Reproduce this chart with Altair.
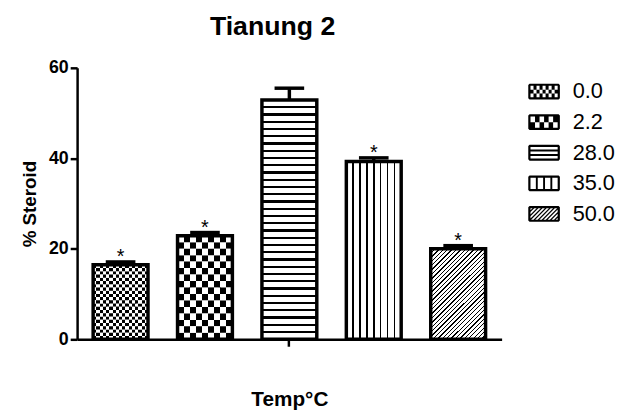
import altair as alt
import pandas as pd

# ---- data ----
temps = ["0.0", "2.2", "28.0", "35.0", "50.0"]
means = [16.5, 22.9, 52.9, 39.3, 20.0]
sems = [0.6, 0.7, 2.6, 0.8, 0.7]
sig = ["*", "*", "", "*", "*"]
y_ticks = [0, 20, 40, 60]

df = pd.DataFrame({"temp": temps, "mean": means, "sem": sems, "sig": sig})
df["upper"] = df["mean"] + df["sem"]
df["mid"] = df["mean"] / 2

FONT = "Liberation Sans"

# checkerboard fill: (columns, rows) of cells for the two chequered bars
checker = {"0.0": (17, 23), "2.2": (9, 16)}
slice_rows = []
for t, m in zip(temps, means):
    if t in checker:
        cols, rows = checker[t]
        for j in range(rows):
            slice_rows.append({"temp": t, "y0": m * j / rows, "y1": m * (j + 1) / rows, "par": j % 2})
slices = pd.DataFrame(slice_rows)


# ---- pattern helpers (linear gradients with hard stops) ----
def grad(stops, x2=0, y2=1):
    return {"gradient": "linear", "x1": 0, "y1": 0, "x2": x2, "y2": y2, "stops": stops}


def bands(n, first="black"):
    other = "white" if first == "black" else "black"
    stops = []
    for i in range(n):
        c = first if i % 2 == 0 else other
        stops.append({"offset": i / n, "color": c})
        stops.append({"offset": (i + 1) / n, "color": c})
    return stops


def lines(n, hw):
    stops = [{"offset": 0, "color": "white"}]
    for k in range(1, n):
        p = k / n
        stops += [
            {"offset": p - hw, "color": "white"},
            {"offset": p - hw, "color": "black"},
            {"offset": p + hw, "color": "black"},
            {"offset": p + hw, "color": "white"},
        ]
    stops.append({"offset": 1, "color": "white"})
    return stops


# ---- legend symbol paths ----
H, T = 0.5, 0.14


def f(v):
    return f"{v:.3f}"


def ccw(x0, y0, x1, y1):
    return f"M{f(x0)},{f(y0)}L{f(x0)},{f(y1)}L{f(x1)},{f(y1)}L{f(x1)},{f(y0)}Z"


def poly(pts):
    return "M" + "L".join(f"{f(x)},{f(y)}" for x, y in pts) + "Z"


c = 0.08
OUT = (f"M{f(-1 + c)},{f(-H)}L{f(1 - c)},{f(-H)}L1,{f(-H + c)}L1,{f(H - c)}"
       f"L{f(1 - c)},{f(H)}L{f(-1 + c)},{f(H)}L-1,{f(H - c)}L-1,{f(-H + c)}Z")
IX0, IX1, IY0, IY1 = -1 + T, 1 - T, -H + T, H - T


def checker_path(cols, rows):
    w = (IX1 - IX0) / cols
    h = (IY1 - IY0) / rows
    p = OUT
    for i in range(cols):
        for j in range(rows):
            if (i + j) % 2 == 0:
                p += ccw(IX0 + i * w, IY0 + j * h, IX0 + (i + 1) * w, IY0 + (j + 1) * h)
    return p


def hstrip_path(n, lw):
    h = (IY1 - IY0 - (n - 1) * lw) / n
    p = OUT
    for j in range(n):
        y0 = IY0 + j * (h + lw)
        p += ccw(IX0, y0, IX1, y0 + h)
    return p


def vstrip_path(n, lw):
    w = (IX1 - IX0 - (n - 1) * lw) / n
    p = OUT
    for i in range(n):
        x0 = IX0 + i * (w + lw)
        p += ccw(x0, IY0, x0 + w, IY1)
    return p


def clip_x(pts, lo, hi):
    def clip(points, inside, inter):
        out = []
        for i in range(len(points)):
            a, b = points[i - 1], points[i]
            if inside(b):
                if not inside(a):
                    out.append(inter(a, b))
                out.append(b)
            elif inside(a):
                out.append(inter(a, b))
        return out

    def ix(xv):
        def g(a, b):
            t = (xv - a[0]) / (b[0] - a[0])
            return (xv, a[1] + t * (b[1] - a[1]))
        return g

    pts = clip(pts, lambda p: p[0] >= lo, ix(lo))
    if pts:
        pts = clip(pts, lambda p: p[0] <= hi, ix(hi))
    return pts


def diag_path(spacing, lw):
    hb = IY1 - IY0
    p = OUT + ccw(IX0, IY0, IX1, IY1)  # white interior
    cx = IX0 - hb + spacing / 2
    while cx < IX1:
        pts = [(cx, IY1), (cx + hb, IY0), (cx + hb + lw, IY0), (cx + lw, IY1)]
        pts = clip_x(pts, IX0, IX1)
        if len(pts) >= 3:
            p += poly(pts)
        cx += spacing
    return p


legend_paths = [
    checker_path(9, 3),
    checker_path(6, 2),
    hstrip_path(3, 0.12),
    vstrip_path(4, 0.12),
    diag_path(0.26, 0.11),
]

# ---- shared encodings ----
XS = alt.Scale(domain=temps, paddingInner=0.35, paddingOuter=0.19)
X = alt.X(
    "temp:N",
    sort=temps,
    scale=XS,
    axis=alt.Axis(
        values=["28.0"], labels=False, tickSize=7, tickWidth=2.5, domainWidth=2.5,
        tickColor="black", domainColor="black", title="Temp°C", titleFont=FONT,
        titleFontSize=21, titleFontWeight="bold", titleColor="black", titlePadding=42,
    ),
)
YS = alt.Scale(domain=[0, 60], nice=False)
Y = alt.Y(
    "mean:Q",
    scale=YS,
    axis=alt.Axis(
        values=y_ticks, grid=False, tickSize=7, tickWidth=2.5, domainWidth=2.5,
        tickColor="black", domainColor="black", labelColor="black",
        labelFont=FONT, labelFontSize=18, labelFontWeight="bold", labelPadding=2,
        title="% Steroid", titleFont=FONT, titleFontSize=19, titleFontWeight="bold",
        titleColor="black", titlePadding=9,
    ),
)

base = alt.Chart(df)

legend_pts = base.mark_point(
    filled=True, size=1024, opacity=1, color="black", strokeWidth=0
).encode(
    x=X,
    y=alt.Y("mid:Q", scale=YS),
    shape=alt.Shape(
        "temp:N",
        sort=temps,
        scale=alt.Scale(domain=temps, range=legend_paths),
        legend=alt.Legend(
            title=None, orient="none", legendX=457, legendY=8, symbolSize=1024,
            symbolFillColor="black", symbolStrokeWidth=0, symbolOpacity=1,
            labelFont=FONT, labelFontSize=22, labelColor="black", labelOffset=13,
            rowPadding=4, padding=0,
        ),
    ),
)


def bar_layer(t, fill):
    return (
        base.transform_filter(alt.datum.temp == t)
        .mark_bar(fill=fill, strokeWidth=0)
        .encode(x=X, y=Y)
    )


def checker_layer(t, par):
    cols = checker[t][0]
    first = "black" if par == 0 else "white"
    return (
        alt.Chart(slices)
        .transform_filter((alt.datum.temp == t) & (alt.datum.par == par))
        .mark_bar(fill=grad(bands(cols, first), 1, 0), strokeWidth=0)
        .encode(x=alt.X("temp:N", sort=temps, scale=XS),
                y=alt.Y("y0:Q", scale=YS), y2="y1:Q")
    )


layers = [
    legend_pts,
    checker_layer("0.0", 0),
    checker_layer("0.0", 1),
    checker_layer("2.2", 0),
    checker_layer("2.2", 1),
    bar_layer("28.0", grad(lines(33, 0.0045), 0, 1)),
    bar_layer("35.0", grad(lines(8, 0.014), 1, 0)),
    bar_layer("50.0", grad(lines(33, 0.0045), 0.711, 1.175)),
]

outline = base.mark_bar(fill="white", fillOpacity=0, stroke="black", strokeWidth=3.5).encode(x=X, y=Y)
err = base.mark_rule(color="black", strokeWidth=3.5).encode(
    x=X, y=alt.Y("mean:Q", scale=YS), y2="upper:Q"
)
cap = base.mark_tick(color="black", thickness=3.5, size=30, orient="horizontal", opacity=1).encode(
    x=X, y=alt.Y("upper:Q", scale=YS)
)
stars = base.mark_text(font=FONT, fontSize=20, baseline="alphabetic", dy=1, color="black").encode(
    x=X, y=alt.Y("upper:Q", scale=YS), text="sig:N"
)

chart = (
    alt.layer(*layers, outline, err, cap, stars)
    .properties(
        width=430,
        height=275,
        background="white",
        autosize=alt.AutoSizeParams(type="none"),
        padding={"left": 70, "top": 58, "right": 127, "bottom": 70},
        title=alt.TitleParams(
            text="Tianung 2", font=FONT, fontSize=27, fontWeight="bold", color="black",
            anchor="middle", dx=-17, offset=18,
        ),
    )
    .configure_view(stroke="transparent", strokeWidth=0)
)

chart.save("out.html", embed_options={"renderer": "svg", "actions": False})
